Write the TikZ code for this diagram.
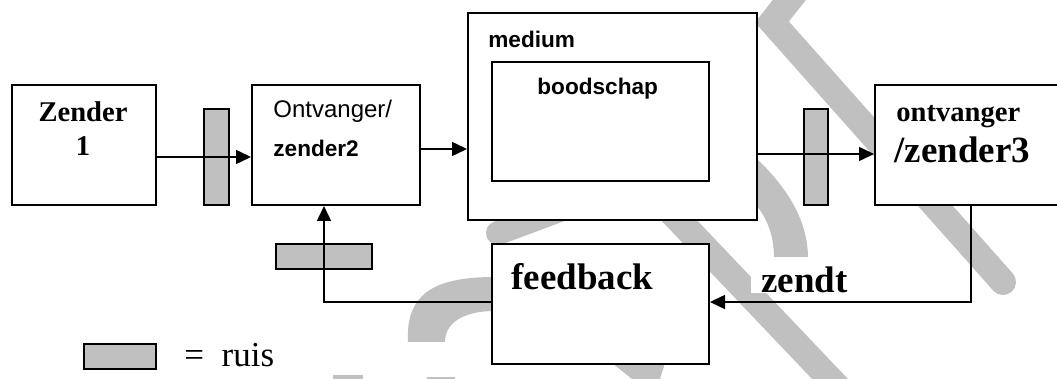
\documentclass[tikz,border=0pt]{standalone}
\usepackage{fontspec}
\setmainfont{Liberation Serif}
\newfontfamily\arialfont{Liberation Sans}
\usetikzlibrary{positioning,calc}
\usetikzlibrary{arrows.meta}
\definecolor{RuisGray}{RGB}{192,192,192}
\definecolor{MarkGray}{RGB}{192,192,192}
\tikzset{
  box/.style={draw=black,fill=white,line width=1pt,inner sep=0pt,anchor=north west},
  ruis/.style={draw=black,fill=RuisGray,line width=1pt,inner sep=0pt,anchor=north west},
  pijl/.style={draw=black,line width=0.75pt,-{Triangle[length=7.5pt,width=7pt]}},
  wm/.style={draw=MarkGray,line width=13pt},
  tz/.style={font=\bfseries\fontsize{14.3}{17}\selectfont,inner sep=0pt,anchor=base west},
  tbig/.style={font=\bfseries\fontsize{18.5}{22}\selectfont,inner sep=0pt,anchor=base west},
  tsans/.style={font=\arialfont\fontsize{12}{14}\selectfont,inner sep=0pt,anchor=base west},
  tsansb/.style={font=\arialfont\bfseries\fontsize{11.3}{14}\selectfont,inner sep=0pt,anchor=base west},
  truis/.style={font=\fontsize{17.5}{21}\selectfont,inner sep=0pt,anchor=base west},
}
\begin{document}
\begin{tikzpicture}[x=0.5pt,y=-0.5pt]
  \useasboundingbox (0,0) rectangle (1057,379);
  \clip (0,0) rectangle (1057,379);
  \fill[white] (0,0) rectangle (1057,379);
  % watermark
  \draw[wm,line cap=round] (805,-20) -- (772,22) -- (1003,282);
  \draw[wm] (655,195) -- (850,400);
  \draw[wm,line width=12pt,line cap=round] (498,233) -- (600,195);
  \fill[MarkGray] (735,140) .. controls (792,185) and (808,225) .. (808,258)
    -- (774,258) .. controls (774,228) and (762,205) .. (735,185) -- cycle;
  \fill[MarkGray] (408,342) .. controls (405,290) and (440,277) .. (495,277)
    -- (495,311) .. controls (460,311) and (445,325) .. (445,342) -- cycle;
  \fill[MarkGray] (612,363) -- (665,363) -- (660,379) -- (632,379) -- cycle;
  \fill[MarkGray] (333,375) rectangle (363,379);
  \fill[MarkGray] (427,377) rectangle (455,379);
  % blocks
  \node[box,minimum width=72pt,minimum height=60pt] (zender1) at (11,84) {};
  \node[box,minimum width=84pt,minimum height=60pt] (ontv2) at (251,84) {};
  \node[box,minimum width=144.5pt,minimum height=103.5pt] (medium) at (467,12) {};
  \node[box,minimum width=108.5pt,minimum height=59.5pt] (boodschap) at (491,61) {};
  \node[box,minimum width=100pt,minimum height=60pt] (ontv3) at (874,84) {};
  \node[box,minimum width=108.5pt,minimum height=60pt] (feedback) at (491,243) {};
  \node[ruis,minimum width=12.5pt,minimum height=48pt] (ruis1) at (203,108) {};
  \node[ruis,minimum width=12pt,minimum height=48pt] (ruis2) at (803,108) {};
  \node[ruis,minimum width=48pt,minimum height=12.5pt] (ruis3) at (275,243) {};
  \node[ruis,minimum width=36pt,minimum height=12.5pt] (legenda) at (83,343) {};
  % texts
  \node[tz,anchor=base] (zender1a) at (83,122) {Zender};
  \node[tz,anchor=base] (zender1b) at (83,156) {1};
  \node[tsans] (ontv2a) at (273,118) {Ontvanger/};
  \node[tsansb] (ontv2b) at (273,157) {zender2};
  \node[tsansb] (mediumtxt) at (488,48) {medium};
  \node[tsansb] (boodschaptxt) at (537,95) {boodschap};
  \node[tz] (ontv3a) at (896,122) {ontvanger};
  \node[tbig] (ontv3b) at (894,163) {/zender3};
  \node[tbig] (feedbacktxt) at (511,290) {feedback};
  \node[tbig,fill=white,inner xsep=5pt,text height=18pt] (zendt) at (751,293) {zendt};
  \node[truis] (ruistxt) at (184,367) {= \ ruis};
  % connectors
  \draw[pijl] ($(zender1.east)+(0,12)$) -- ($(ontv2.west)+(0,12)$);
  \coordinate (p2) at ($(ontv2.east)+(0,4)$);
  \draw[pijl] (p2) -- (p2 -| medium.west);
  \coordinate (p3) at ($(ontv3.west)+(0,9)$);
  \draw[pijl] (medium.east |- p3) -- (p3);
  \coordinate (p4) at ($(ontv3.south west)+(97,0)$);
  \draw[pijl] (p4) |- ($(feedback.east)+(0,-2)$);
  \draw[pijl] ($(feedback.west)+(0,-2)$) -| ($(ontv2.south)+(-12,0)$);
\end{tikzpicture}
\end{document}
